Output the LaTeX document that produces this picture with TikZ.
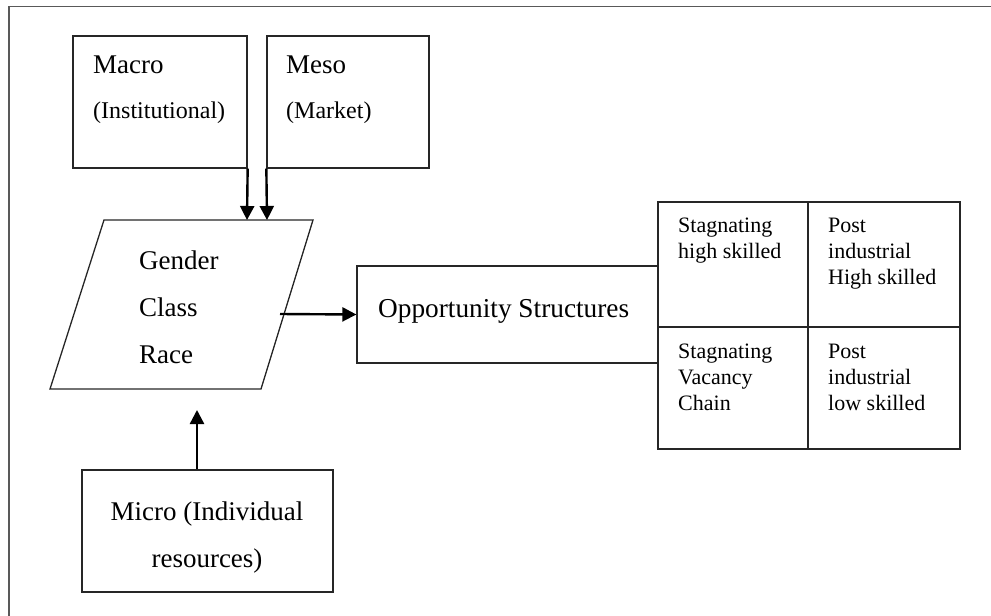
\documentclass[tikz,border=0pt]{standalone}
\usepackage{fontspec}
\setmainfont{Liberation Serif}
\usetikzlibrary{arrows.meta}
\begin{document}
\begin{tikzpicture}[x=1pt,y=-1pt,
  box/.style={draw=black!85, line width=1.3pt, inner sep=0pt},
  txt/.style={inner sep=0pt, anchor=base west, align=left},
  big/.style={font=\fontsize{27}{47}\selectfont},
  mid/.style={font=\fontsize{24}{28}\selectfont},
  cell/.style={font=\fontsize{22}{26}\selectfont},
  arr/.style={line width=2.4pt, -{Triangle[width=14pt,length=14pt]}}
]
\useasboundingbox (0,0) rectangle (991,616);
% frame
\draw[black!65, line width=1.6pt] (9,616) -- (9,6.5) -- (991,6.5);
% macro / meso
\node[box, minimum width=174pt, minimum height=132pt] (macro) at (160,102) {};
\node[box, minimum width=162pt, minimum height=132pt] (meso) at (348,102) {};
\node[txt, big] (macrot) at (93,73) {Macro};
\node[txt, mid] (macros) at (93,118) {(Institutional)};
\node[txt, big] (mesot) at (286,73) {Meso};
\node[txt, mid] (mesos) at (286,118) {(Market)};
% parallelogram
\coordinate (p1) at (104,220);
\coordinate (p2) at (313,220);
\coordinate (p3) at (261,389);
\coordinate (p4) at (50,389);
\draw[draw=black!85, line width=1.3pt] (p1) -- (p2) -- (p3) -- (p4) -- cycle;
\node[txt, big] (gcr) at (139,363) {Gender\\Class\\Race};
\coordinate (gcrtop1) at (247,220);
\coordinate (gcrtop2) at (267,220);
\coordinate (gcrout) at (280,314);
\coordinate (gcrbot) at (197,410);
% opportunity
\node[box, minimum width=301pt, minimum height=97pt] (opp) at (507.5,314.5) {};
\node[txt, font=\fontsize{27.3}{30}\selectfont] (oppt) at (378,317) {Opportunity Structures};
% grid
\node[box, minimum width=150pt, minimum height=125pt] (c11) at (733,264.5) {};
\node[box, minimum width=152pt, minimum height=125pt] (c12) at (884,264.5) {};
\node[box, minimum width=150pt, minimum height=122pt] (c21) at (733,388) {};
\node[box, minimum width=152pt, minimum height=122pt] (c22) at (884,388) {};
\node[txt, cell] (c11t) at (678,258) {Stagnating\\high skilled};
\node[txt, cell] (c12t) at (828,284) {Post\\industrial\\High skilled};
\node[txt, cell] (c21t) at (678,410) {Stagnating\\Vacancy\\Chain};
\node[txt, cell] (c22t) at (828,410) {Post\\industrial\\low skilled};
% micro
\node[box, minimum width=251pt, minimum height=122pt] (micro) at (207.5,531) {};
\node[inner sep=0pt, anchor=base, align=center, big] (microt) at (207,567) {Micro (Individual\\resources)};
% arrows
\draw[arr] (macro.south east) -- (gcrtop1);
\draw[arr] (meso.south west) -- (gcrtop2);
\draw[arr] (gcrout) -- (opp.west);
\draw[arr] (micro.north -| gcrbot) -- (gcrbot);
\end{tikzpicture}
\end{document}
